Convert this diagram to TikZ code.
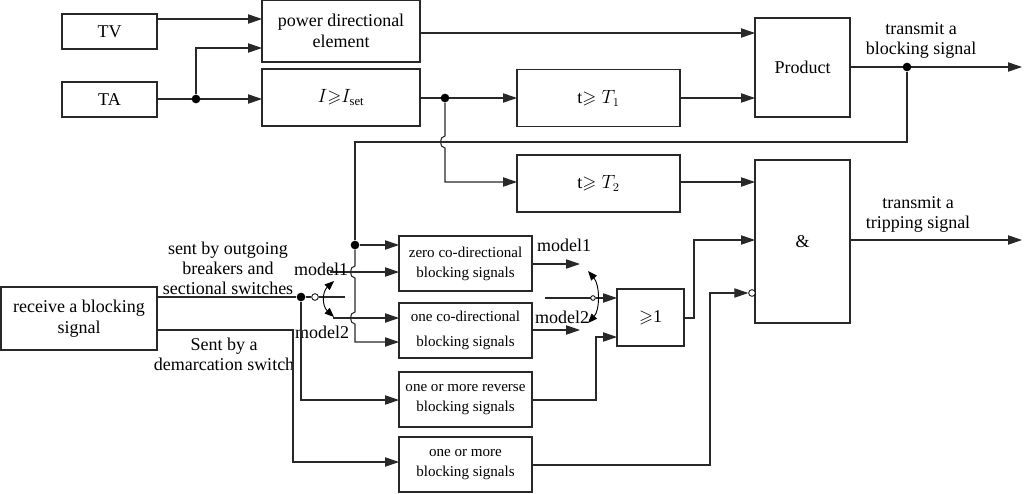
\documentclass[tikz,border=0pt]{standalone}
\usepackage{fontspec}
\setmainfont{Liberation Serif}
\usepackage{amssymb}
\usetikzlibrary{arrows.meta, calc}
\definecolor{wire}{RGB}{40, 40, 40}

\begin{document}
\begin{tikzpicture}[x=0.75pt, y=-0.75pt,
    % block styles
    block/.style={
        rectangle, draw=wire, line width=0.8pt, inner sep=1pt, outer sep=0pt,
        align=center, font=\fontsize{13.5}{16}\selectfont
    },
    smallblock/.style={block, minimum width=99.75pt, minimum height=41.25pt,
        font=\fontsize{11.3}{15}\selectfont},
    % connector styles
    arrow/.style={-{Triangle[length=10.5pt, width=7pt]}, line width=0.8pt, wire},
    line/.style={line width=0.8pt, wire},
    dot/.style={circle, fill=black, inner sep=0pt, minimum size=6.5pt},
    ring/.style={circle, draw=black, fill=white, line width=0.6pt, inner sep=0pt, minimum size=5pt},
    label/.style={font=\fontsize{13.5}{15}\selectfont, align=center},
]
\useasboundingbox (0,0) rectangle (1025,493);

% ==================== blocks ====================
\node[block, minimum width=71.25pt, minimum height=26.25pt] (tv) at (109.5,31.5) {TV};
\node[block, minimum width=71.25pt, minimum height=26.25pt] (ta) at (109.5,99.5) {TA};
\node[block, minimum width=118.5pt, minimum height=46.5pt] (power) at (341,31) {power directional\\element};
\node[block, minimum width=118.5pt, minimum height=42.75pt] (iset) at (341,97.5) {$I{\geqslant}I_{\mathrm{set}}$};
\node[block, minimum width=122.25pt, minimum height=42.75pt] (tone) at (598.5,98) {t$\geqslant T_1$};
\node[block, minimum width=122.25pt, minimum height=42.75pt] (ttwo) at (598.5,183.5) {t$\geqslant T_2$};
\node[block, minimum width=71.25pt, minimum height=74.25pt] (product) at (802.5,67.5) {Product};
\node[block, minimum width=71.25pt, minimum height=122.25pt] (and) at (802.5,241.5) {\&};
\node[block, minimum width=117pt, minimum height=47.25pt] (receive) at (79,318.5) {receive a blocking\\signal};
\node[smallblock] (zero) at (465.5,263.5) {zero co-directional\\blocking signals};
\node[smallblock] (one) at (465.5,330.5) {one co-directional\\[4pt]blocking signals};
\node[smallblock] (reverse) at (465.5,399.5) {one or more reverse\\blocking signals};
\node[smallblock] (more) at (465.5,464.5) {one or more\\blocking signals};
\node[block, minimum width=50.25pt, minimum height=42.75pt] (or) at (650.5,317.5) {$\geqslant$1};

% ==================== top part ====================
\draw[arrow] (tv.east |- 0,19) -- (power.west |- 0,19);
\draw[line] (ta.east |- 0,99) -- (196,99);
\draw[arrow] (196,99) -- (iset.west |- 0,99);
\node[dot] (tadot) at (196,99) {};
\draw[arrow] (tadot) |- (power.west |- 0,48);
\draw[arrow] (power.east |- 0,33) -- (product.west |- 0,33);
\draw[arrow] (iset.east |- 0,98) -- (tone.west |- 0,98);
\node[dot] (isetdot) at (445,98) {};
\draw[arrow] (tone.east |- 0,98) -- (product.west |- 0,98);
\draw[arrow] (product.east |- 0,67) -- (1022,67);
\node[dot] (outdot) at (907,67) {};
\node[label] (blocktxt) at (921,40) {transmit a\\blocking signal};
% current branch to T2, hopping the feedback wire
\draw[arrow] (isetdot) -- (445,136) .. controls (439,136) and (439,148) .. (445,148)
    |- (ttwo.west |- 0,182);
\draw[arrow] (ttwo.east |- 0,182) -- (and.west |- 0,182);

% feedback of the blocking signal
\node[dot] (fbdot) at (355,245) {};
\draw[line] (outdot) |- (355,142) -- (fbdot);
\draw[arrow] (fbdot) -- (zero.west |- fbdot);
\draw[arrow] (fbdot) -- (355,266) .. controls (349,266) and (349,278) .. (355,278)
    -- (355,312) .. controls (349,312) and (349,324) .. (355,324) |- (one.west |- 0,342);

% ==================== left switch ====================
\node[dot] (swdot) at (301,297) {};
\node[ring] (swring) at (315,297) {};
\draw[line] (receive.east |- 0,297) -- (swdot) -- (swring);
\draw[line] (swring) -- (345,297);
\draw[{Triangle[length=7pt, width=5.5pt]}-{Triangle[length=7pt, width=5.5pt]}, line width=0.7pt]
    (334,281) .. controls (322,292) and (322,306) .. (334,317);
\draw[arrow] (330,272) -- (zero.west |- 0,272);
\draw[arrow] (333,318) -- (one.west |- 0,318);
\node[label] (modela) at (321,269) {model1};
\node[label] (modelb) at (322,332) {model2};
\node[label] (outgoing) at (228,268) {sent by outgoing\\breakers and\\sectional switches};
\node[label] (demarc) at (224,354) {Sent by a\\demarcation switch};
\draw[arrow] (swdot) |- (reverse.west |- 0,400);
\draw[arrow] (receive.east |- 0,330) -| (293,462) -- (more.west |- 0,462);

% ==================== right switch ====================
\draw[arrow] (zero.east |- 0,264) -- (580,264);
\draw[arrow] (one.east |- 0,330) -- (580,330);
\node[label] (modelc) at (564,245) {model1};
\node[label] (modeld) at (562,317) {model2};
\draw[line] (545,298) -- (591,298);
\node[ring, minimum size=3.5pt] (swring2) at (593,298) {};
\draw[arrow] (swring2) -- (or.west |- 0,298);
\draw[{Triangle[length=7pt, width=5.5pt]}-{Triangle[length=7pt, width=5.5pt]}, line width=0.7pt]
    (588,271) .. controls (600,285) and (600,310) .. (588,323);
\draw[arrow] (reverse.east |- 0,400) -| (596,337) -- (or.west |- 0,337);

% ==================== AND gate ====================
\draw[arrow] (or.east |- 0,318) -| (694,240) -- (and.west |- 0,240);
\node[ring] (negring) at (752,293) {};
\draw[arrow] (more.east |- 0,465) -| (710,293) -- (negring.west);
\draw[arrow] (and.east |- 0,240) -- (1022,240);
\node[label] (triptxt) at (918,214) {transmit a\\tripping signal};

\end{tikzpicture}
\end{document}
